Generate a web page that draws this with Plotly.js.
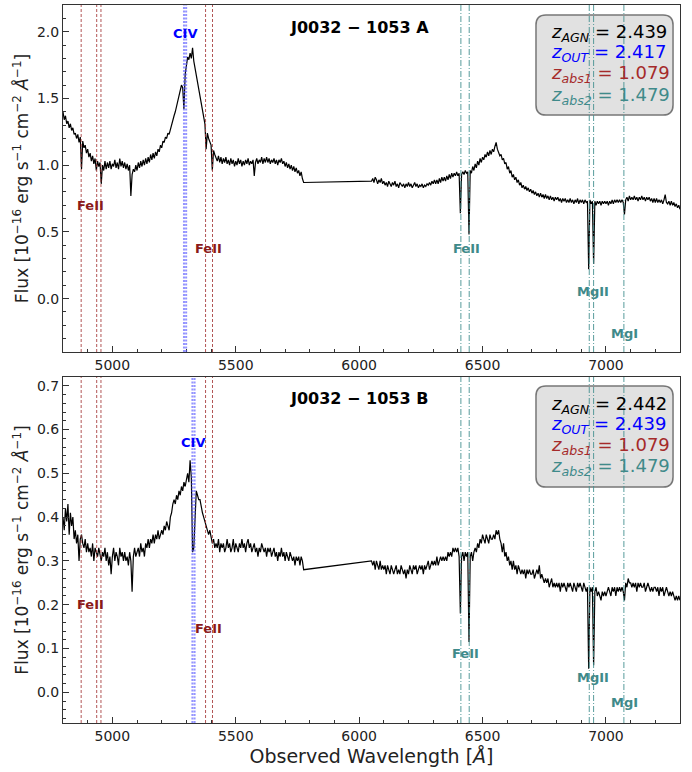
<!DOCTYPE html>
<html><head><meta charset="utf-8">
<script src="https://cdn.plot.ly/plotly-3.0.1.min.js"></script>
<style>body{margin:0;background:#fff}</style>
</head><body><div id="chart" style="width:692px;height:772px"></div>
<script>
// Observed wavelength grid (Angstrom)
const wave = [
4800,4805,4810,4815,4820,4825,4830,4835,4840,4845,
4850,4855,4860,4865,4870,4875,4880,4885,4890,4895,
4900,4905,4910,4915,4920,4925,4930,4935,4940,4945,
4950,4955,4960,4965,4970,4975,4980,4985,4990,4995,
5000,5005,5010,5015,5020,5025,5030,5035,5040,5045,
5050,5055,5060,5065,5070,5075,5080,5085,5090,5095,
5100,5105,5110,5115,5120,5125,5130,5135,5140,5145,
5150,5155,5160,5165,5170,5175,5180,5185,5190,5195,
5200,5205,5210,5215,5220,5225,5230,5235,5240,5245,
5250,5255,5260,5265,5270,5275,5280,5285,5290,5295,
5300,5305,5310,5315,5320,5325,5330,5335,5340,5345,
5350,5355,5360,5365,5370,5375,5380,5385,5390,5395,
5400,5405,5410,5415,5420,5425,5430,5435,5440,5445,
5450,5455,5460,5465,5470,5475,5480,5485,5490,5495,
5500,5505,5510,5515,5520,5525,5530,5535,5540,5545,
5550,5555,5560,5565,5570,5575,5580,5585,5590,5595,
5600,5605,5610,5615,5620,5625,5630,5635,5640,5645,
5650,5655,5660,5665,5670,5675,5680,5685,5690,5695,
5700,5705,5710,5715,5720,5725,5730,5735,5740,5745,
5750,5755,5760,5765,5770,5775,
6050,6055,6060,6065,6070,6075,6080,6085,6090,6095,
6100,6105,6110,6115,6120,6125,6130,6135,6140,6145,
6150,6155,6160,6165,6170,6175,6180,6185,6190,6195,
6200,6205,6210,6215,6220,6225,6230,6235,6240,6245,
6250,6255,6260,6265,6270,6275,6280,6285,6290,6295,
6300,6305,6310,6315,6320,6325,6330,6335,6340,6345,
6350,6355,6360,6365,6370,6375,6380,6385,6390,6395,
6400,6405,6410,6415,6420,6425,6430,6435,6440,6445,
6450,6455,6460,6465,6470,6475,6480,6485,6490,6495,
6500,6505,6510,6515,6520,6525,6530,6535,6540,6545,
6550,6555,6560,6565,6570,6575,6580,6585,6590,6595,
6600,6605,6610,6615,6620,6625,6630,6635,6640,6645,
6650,6655,6660,6665,6670,6675,6680,6685,6690,6695,
6700,6705,6710,6715,6720,6725,6730,6735,6740,6745,
6750,6755,6760,6765,6770,6775,6780,6785,6790,6795,
6800,6805,6810,6815,6820,6825,6830,6835,6840,6845,
6850,6855,6860,6865,6870,6875,6880,6885,6890,6895,
6900,6905,6910,6915,6920,6925,6930,6935,6940,6945,
6950,6955,6960,6965,6970,6975,6980,6985,6990,6995,
7000,7005,7010,7015,7020,7025,7030,7035,7040,7045,
7050,7055,7060,7065,7070,7075,7080,7085,7090,7095,
7100,7105,7110,7115,7120,7125,7130,7135,7140,7145,
7150,7155,7160,7165,7170,7175,7180,7185,7190,7195,
7200,7205,7210,7215,7220,7225,7230,7235,7240,7245,
7250,7255,7260,7265,7270,7275,7280,7285,7290,7295,
7300];

// Flux, image A (1e-16 erg/s/cm2/A)
const fluxA = [
1.40,1.34,1.37,1.31,1.33,1.28,1.31,1.26,1.28,1.23,
1.24,1.20,1.23,1.17,1.21,0.97,1.18,1.13,1.15,1.09,
1.12,1.06,1.09,1.03,1.07,1.01,1.05,0.96,1.03,0.99,
1.02,0.86,1.00,0.96,1.03,0.97,1.02,0.98,1.03,0.97,
1.01,0.99,1.04,0.98,1.02,0.97,1.05,0.99,1.03,0.98,
1.02,0.97,1.01,0.96,1.00,0.77,0.93,0.97,0.95,1.00,
0.96,1.02,0.98,1.03,0.99,1.04,1.00,1.05,1.01,1.06,
1.02,1.08,1.04,1.09,1.05,1.10,1.07,1.12,1.10,1.15,
1.13,1.18,1.17,1.21,1.20,1.24,1.23,1.27,1.30,1.33,
1.37,1.40,1.44,1.48,1.52,1.56,1.60,1.58,1.42,1.68,
1.75,1.81,1.79,1.84,1.80,1.88,1.78,1.73,1.67,1.62,
1.58,1.52,1.47,1.41,1.36,1.31,1.12,1.24,1.20,1.17,
1.15,0.96,1.11,1.08,1.06,1.03,1.07,1.02,1.06,1.01,
1.05,1.02,1.06,1.01,1.04,1.00,1.05,1.01,1.04,0.99,
1.03,1.00,1.05,1.01,1.04,0.99,1.03,1.00,1.04,1.01,
1.05,1.00,1.03,1.01,1.04,0.92,1.02,1.05,1.01,1.04,
1.02,1.06,1.01,1.05,1.02,1.06,1.02,1.05,1.01,1.04,
1.02,1.05,1.01,1.04,1.00,1.04,1.02,1.05,1.01,1.03,
0.99,1.02,0.98,1.01,0.97,1.00,0.96,0.99,0.95,0.98,
0.94,0.96,0.92,0.95,0.90,0.87,
0.88,0.90,0.87,0.91,0.89,0.86,0.89,0.87,0.90,0.86,
0.88,0.85,0.87,0.84,0.88,0.86,0.84,0.87,0.85,0.88,
0.84,0.86,0.83,0.87,0.85,0.84,0.86,0.83,0.86,0.84,
0.87,0.84,0.86,0.83,0.85,0.87,0.84,0.86,0.83,0.85,
0.84,0.86,0.83,0.85,0.84,0.86,0.85,0.87,0.85,0.88,
0.86,0.89,0.86,0.89,0.86,0.90,0.87,0.91,0.88,0.91,
0.88,0.92,0.89,0.93,0.90,0.94,0.91,0.94,0.92,0.95,
0.92,0.94,0.64,0.93,0.95,0.93,0.96,0.94,0.95,0.48,
0.96,0.94,0.99,0.96,1.01,0.98,1.03,1.00,1.05,1.02,
1.06,1.04,1.08,1.06,1.10,1.07,1.11,1.08,1.12,1.10,
1.14,1.17,1.12,1.10,1.07,1.08,1.04,1.05,1.01,1.02,
0.97,0.99,0.94,0.96,0.91,0.93,0.89,0.91,0.87,0.89,
0.85,0.87,0.83,0.85,0.82,0.84,0.81,0.83,0.80,0.82,
0.79,0.81,0.78,0.80,0.77,0.79,0.76,0.79,0.76,0.78,
0.75,0.78,0.75,0.77,0.74,0.77,0.74,0.76,0.73,0.76,
0.74,0.76,0.73,0.75,0.72,0.75,0.73,0.75,0.72,0.74,
0.72,0.75,0.72,0.74,0.71,0.74,0.72,0.75,0.71,0.74,
0.72,0.74,0.71,0.74,0.72,0.73,0.22,0.74,0.71,0.73,
0.26,0.73,0.70,0.73,0.71,0.73,0.70,0.73,0.71,0.73,
0.71,0.73,0.70,0.73,0.71,0.74,0.71,0.74,0.72,0.74,
0.72,0.74,0.72,0.74,0.72,0.63,0.74,0.76,0.73,0.77,
0.74,0.76,0.74,0.77,0.74,0.76,0.73,0.76,0.74,0.77,
0.74,0.76,0.73,0.76,0.74,0.76,0.73,0.75,0.72,0.75,
0.72,0.75,0.72,0.74,0.72,0.74,0.71,0.74,0.78,0.72,
0.71,0.73,0.70,0.73,0.70,0.72,0.69,0.71,0.68,0.70,
0.67];

// Flux, image B
const fluxB = [
0.40,0.37,0.42,0.39,0.43,0.36,0.41,0.38,0.40,0.35,
0.37,0.34,0.36,0.30,0.35,0.36,0.34,0.33,0.35,0.32,
0.34,0.32,0.33,0.31,0.34,0.30,0.33,0.32,0.31,0.33,
0.31,0.30,0.32,0.31,0.33,0.30,0.32,0.29,0.31,0.27,
0.31,0.33,0.30,0.32,0.31,0.29,0.33,0.31,0.32,0.30,
0.32,0.30,0.31,0.29,0.32,0.30,0.23,0.31,0.33,0.31,
0.32,0.33,0.31,0.34,0.32,0.33,0.31,0.34,0.33,0.35,
0.33,0.35,0.34,0.36,0.34,0.36,0.35,0.37,0.35,0.36,
0.37,0.36,0.38,0.37,0.39,0.38,0.37,0.40,0.41,0.43,
0.44,0.43,0.45,0.44,0.46,0.45,0.47,0.46,0.48,0.47,
0.49,0.50,0.48,0.53,0.49,0.32,0.33,0.42,0.46,0.45,
0.44,0.44,0.42,0.41,0.40,0.39,0.38,0.37,0.36,0.37,
0.35,0.34,0.35,0.33,0.34,0.33,0.35,0.32,0.34,0.33,
0.34,0.32,0.33,0.35,0.33,0.34,0.32,0.33,0.35,0.32,
0.34,0.33,0.32,0.34,0.33,0.35,0.33,0.34,0.32,0.34,
0.35,0.33,0.34,0.32,0.33,0.34,0.32,0.33,0.31,0.33,
0.32,0.34,0.33,0.32,0.33,0.31,0.33,0.32,0.33,0.31,
0.32,0.33,0.31,0.32,0.30,0.32,0.31,0.33,0.31,0.32,
0.30,0.32,0.31,0.30,0.32,0.31,0.30,0.31,0.29,0.31,
0.30,0.31,0.29,0.31,0.30,0.28,
0.30,0.29,0.30,0.28,0.30,0.29,0.28,0.30,0.28,0.29,
0.28,0.29,0.27,0.29,0.28,0.27,0.29,0.28,0.27,0.28,
0.29,0.27,0.28,0.27,0.29,0.28,0.27,0.28,0.26,0.28,
0.27,0.29,0.28,0.27,0.29,0.28,0.29,0.27,0.28,0.29,
0.28,0.29,0.27,0.29,0.28,0.29,0.30,0.28,0.29,0.30,
0.29,0.30,0.29,0.31,0.29,0.30,0.31,0.30,0.31,0.30,
0.31,0.30,0.32,0.31,0.32,0.31,0.33,0.32,0.33,0.32,
0.33,0.31,0.18,0.31,0.32,0.30,0.32,0.31,0.32,0.115,
0.31,0.32,0.30,0.32,0.33,0.32,0.34,0.33,0.35,0.34,
0.36,0.35,0.34,0.36,0.35,0.34,0.36,0.35,0.35,0.36,
0.35,0.37,0.36,0.37,0.35,0.34,0.32,0.34,0.31,0.32,
0.30,0.31,0.29,0.30,0.28,0.30,0.28,0.29,0.27,0.29,
0.28,0.27,0.28,0.27,0.28,0.26,0.28,0.27,0.28,0.27,
0.27,0.28,0.26,0.27,0.28,0.27,0.29,0.26,0.27,0.26,
0.25,0.26,0.25,0.26,0.24,0.25,0.26,0.24,0.25,0.24,
0.25,0.24,0.25,0.23,0.25,0.24,0.25,0.24,0.23,0.25,
0.24,0.25,0.24,0.23,0.25,0.24,0.23,0.25,0.24,0.25,
0.24,0.23,0.25,0.24,0.23,0.24,0.054,0.24,0.23,0.24,
0.062,0.23,0.24,0.22,0.23,0.22,0.21,0.23,0.22,0.23,
0.22,0.23,0.24,0.23,0.22,0.24,0.23,0.24,0.22,0.24,
0.23,0.24,0.23,0.24,0.23,0.21,0.25,0.24,0.26,0.25,
0.25,0.24,0.25,0.24,0.25,0.23,0.25,0.24,0.25,0.24,
0.24,0.25,0.23,0.24,0.25,0.24,0.23,0.24,0.23,0.24,
0.24,0.23,0.24,0.22,0.24,0.23,0.24,0.22,0.23,0.24,
0.23,0.22,0.23,0.22,0.23,0.22,0.21,0.22,0.21,0.22,
0.21];

// Line markers (observed wavelengths)
const feAbs1 = [4873.6, 4936.5, 4953.8, 5377.6, 5405.8];      // FeII at z_abs1
const abs2Lines = [6412.2, 6445.9, 6932.3, 6949.9, 7072.6];   // FeII, MgII, MgI at z_abs2
const civA = [5290.2, 5299.0];                                // CIV outflow, A
const civB = [5324.3, 5333.2];                                // CIV outflow, B
const titles = ['J0032 \u2212 1053 A', 'J0032 \u2212 1053 B'];
const zAGN = ['2.439', '2.442'];
const zOUT = ['2.417', '2.439'];
const zABS1 = ['1.079', '1.079'];
const zABS2 = ['1.479', '1.479'];

const FONT = 'DejaVu Sans, sans-serif';
const C_BROWN_LINE = 'rgba(165,55,55,0.85)';
const C_BROWN_TXT = '#8b1a1a';
const C_TEAL_LINE = 'rgba(70,145,145,0.9)';
const C_TEAL_TXT = '#3f8a8a';
const C_BLUE_LINE = 'rgba(90,90,255,0.65)';

const traces = [
  {x: wave, y: fluxA, xaxis: 'x', yaxis: 'y', type: 'scatter', mode: 'lines',
   line: {color: '#000', width: 1.2}, hoverinfo: 'skip'},
  {x: wave, y: fluxB, xaxis: 'x2', yaxis: 'y2', type: 'scatter', mode: 'lines',
   line: {color: '#000', width: 1.2}, hoverinfo: 'skip'}
];

const shapes = [];
const annotations = [];

function roundRect(x0, y0, x1, y1, rx, ry) {
  return `M ${x0+rx},${y0} L ${x1-rx},${y0} Q ${x1},${y0} ${x1},${y0+ry} L ${x1},${y1-ry} Q ${x1},${y1} ${x1-rx},${y1} L ${x0+rx},${y1} Q ${x0},${y1} ${x0},${y1-ry} L ${x0},${y0+ry} Q ${x0},${y0} ${x0+rx},${y0} Z`;
}

const panels = [
  {xr: 'x', yr: 'y', civ: civA, box: [0.7666, 0.8468, 0.9887, 0.9861], textY: [0.961, 0.933, 0.904, 0.873],
   lab: {fe1: [4910, 0.70], fe2: [5390, 0.375], civ: [5293, 1.99], tfe: [6435, 0.375], mg2: [6947, 0.05], mg1: [7077, -0.26], title: [6000, 2.03]}},
  {xr: 'x2', yr: 'y2', civ: civB, box: [0.7666, 0.3287, 0.9887, 0.4694], textY: [0.443, 0.415, 0.386, 0.357],
   lab: {fe1: [4910, 0.20], fe2: [5390, 0.146], civ: [5325, 0.57], tfe: [6430, 0.089], mg2: [6947, 0.034], mg1: [7077, -0.023], title: [6000, 0.672]}}
];

panels.forEach((p, i) => {
  const b = p.box;
  shapes.push({type: 'path', xref: 'paper', yref: 'paper', path: roundRect(b[0], b[1], b[2], b[3], 0.016, 0.014),
    fillcolor: 'rgba(220,220,220,0.85)', line: {color: '#777', width: 1.5}});
  feAbs1.forEach(w => shapes.push({type: 'line', xref: p.xr, yref: p.yr + ' domain', x0: w, x1: w, y0: 0, y1: 1,
    line: {color: C_BROWN_LINE, width: 1, dash: '3px,2px'}}));
  abs2Lines.forEach(w => shapes.push({type: 'line', xref: p.xr, yref: p.yr + ' domain', x0: w, x1: w, y0: 0, y1: 1,
    line: {color: C_TEAL_LINE, width: 1, dash: '6px,2px,1px,2px'}}));
  p.civ.forEach(w => shapes.push({type: 'line', xref: p.xr, yref: p.yr + ' domain', x0: w, x1: w, y0: 0, y1: 1,
    line: {color: C_BLUE_LINE, width: 2, dash: '2px,1.5px'}}));

  const lab = (key, text, color) => annotations.push({xref: p.xr, yref: p.yr, x: p.lab[key][0], y: p.lab[key][1],
    text: '<b>' + text + '</b>', showarrow: false, font: {family: FONT, size: 13, color: color}});
  lab('fe1', 'FeII', C_BROWN_TXT);
  lab('fe2', 'FeII', C_BROWN_TXT);
  lab('civ', 'CIV', '#0000ff');
  lab('tfe', 'FeII', C_TEAL_TXT);
  lab('mg2', 'MgII', C_TEAL_TXT);
  lab('mg1', 'MgI', C_TEAL_TXT);
  annotations.push({xref: p.xr, yref: p.yr, x: p.lab.title[0], y: p.lab.title[1], text: '<b>' + titles[i] + '</b>',
    showarrow: false, font: {family: FONT, size: 16, color: '#000'}});

  const zl = [
    ['<i>z</i><sub><i>AGN</i></sub> = ' + zAGN[i], '#000'],
    ['<i>z</i><sub><i>OUT</i></sub> = ' + zOUT[i], '#0000ff'],
    ['<i>z</i><sub><i>abs1</i></sub> = ' + zABS1[i], '#a52a2a'],
    ['<i>z</i><sub><i>abs2</i></sub> = ' + zABS2[i], C_TEAL_TXT]
  ];
  zl.forEach((t, k) => annotations.push({xref: 'paper', yref: 'paper', x: 0.787, y: p.textY[k], xanchor: 'left', yanchor: 'middle',
    text: t[0], showarrow: false, font: {family: FONT, size: 18, color: t[1]}}));
});

const xBase = {range: [4800, 7300], dtick: 500, tick0: 0, ticks: 'inside', ticklen: 6, tickwidth: 1, tickcolor: '#333',
  showline: true, linecolor: '#333', linewidth: 1, mirror: true, showgrid: false, zeroline: false,
  tickfont: {family: FONT, size: 14, color: '#222'},
  minor: {dtick: 100, ticks: 'inside', ticklen: 3, tickcolor: '#333', showgrid: false}};
const yBase = {ticks: 'inside', ticklen: 6, tickwidth: 1, tickcolor: '#333', tickformat: '.1f',
  showline: true, linecolor: '#333', linewidth: 1, mirror: true, showgrid: false, zeroline: false,
  tickfont: {family: FONT, size: 14, color: '#222'}};
const yTitle = 'Flux [10<sup>\u221216</sup> erg s<sup>\u22121</sup> cm<sup>\u22122</sup> <i>\u00c5</i><sup>\u22121</sup>]';

const layout = {
  width: 692, height: 772, paper_bgcolor: '#fff', plot_bgcolor: '#fff', showlegend: false,
  margin: {l: 63, r: 12, t: 5, b: 49},
  font: {family: FONT},
  xaxis: Object.assign({}, xBase, {domain: [0, 1], anchor: 'y'}),
  xaxis2: Object.assign({}, xBase, {domain: [0, 1], anchor: 'y2',
    title: {text: 'Observed Wavelength [<i>\u00c5</i>]', font: {family: FONT, size: 19, color: '#222'}, standoff: 6}}),
  yaxis: Object.assign({}, yBase, {domain: [0.5167, 1], anchor: 'x', range: [-0.4, 2.2], dtick: 0.5, tick0: 0,
    minor: {dtick: 0.1, ticks: 'inside', ticklen: 3, tickcolor: '#333', showgrid: false},
    title: {text: yTitle, font: {family: FONT, size: 17, color: '#222'}, standoff: 3}}),
  yaxis2: Object.assign({}, yBase, {domain: [0, 0.4819], anchor: 'x2', range: [-0.07, 0.72], dtick: 0.1, tick0: 0,
    minor: {dtick: 0.02, ticks: 'inside', ticklen: 3, tickcolor: '#333', showgrid: false},
    title: {text: yTitle, font: {family: FONT, size: 17, color: '#222'}, standoff: 3}}),
  shapes: shapes,
  annotations: annotations
};

Plotly.newPlot('chart', traces, layout, {staticPlot: true, displayModeBar: false});
</script>
</body></html>
